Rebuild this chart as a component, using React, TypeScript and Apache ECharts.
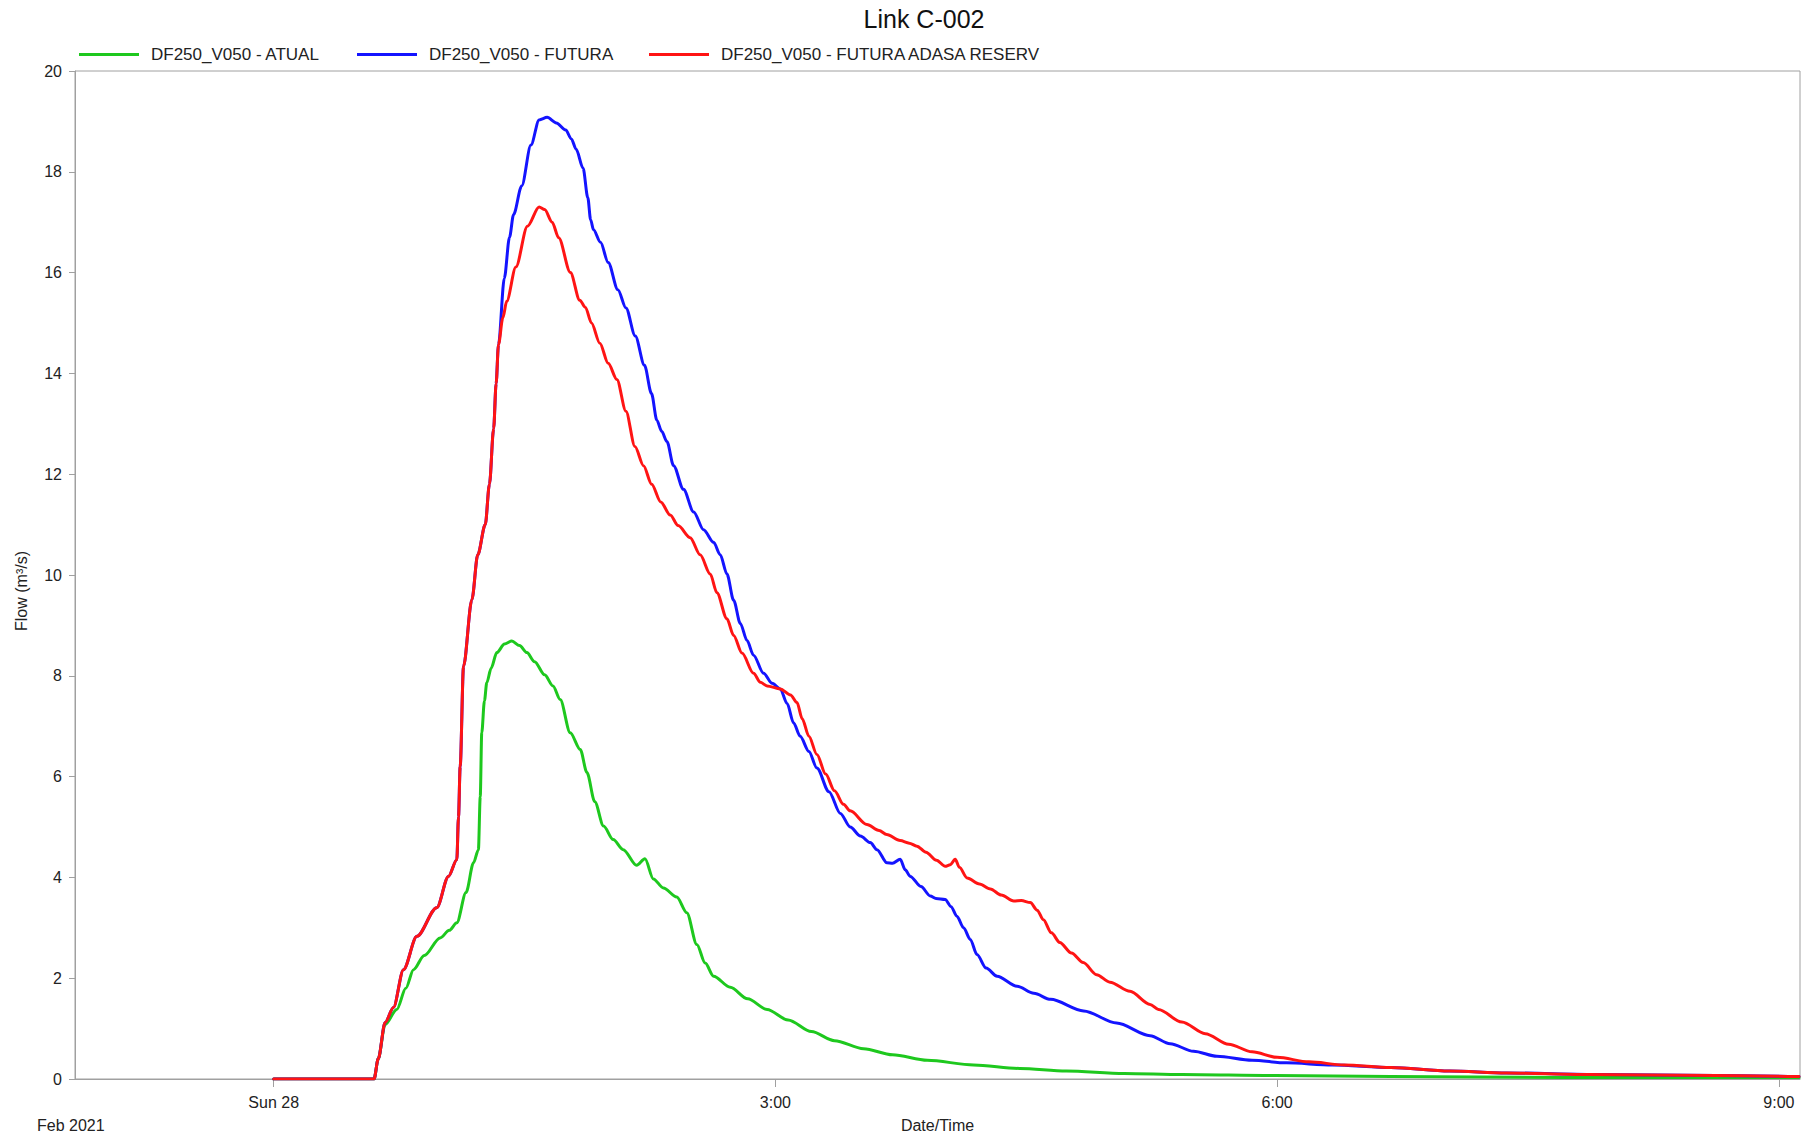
import React, { useEffect, useRef } from "react";
import * as echarts from "echarts";

// Hours after Sun 28 Feb 2021 00:00
const seriesNames = [
  "DF250_V050 - ATUAL",
  "DF250_V050 - FUTURA",
  "DF250_V050 - FUTURA ADASA RESERV",
];
const seriesColors = ["#1ec81e", "#1414ff", "#ff1414"];

const xTickHours = [0, 3, 6, 9];
const xTickLabels = ["Sun 28", "3:00", "6:00", "9:00"];
const yTicks = [0, 2, 4, 6, 8, 10, 12, 14, 16, 18, 20];

const atualHours = [
  0, 0.6, 0.625, 0.666, 0.736, 0.79, 0.836, 0.9, 0.995, 1.05, 1.095, 1.15, 1.195, 1.224,
  1.235, 1.244, 1.26, 1.274, 1.3, 1.334, 1.38, 1.424, 1.47, 1.514, 1.56, 1.62, 1.67, 1.713,
  1.773, 1.833, 1.873, 1.92, 1.972, 2.03, 2.09, 2.17, 2.22, 2.27, 2.33, 2.41, 2.47, 2.53,
  2.58, 2.63, 2.73, 2.834, 2.95, 3.076, 3.215, 3.353, 3.527, 3.7, 3.908, 4.185, 4.462,
  4.739, 5.085, 5.432, 5.986, 6.68, 7.72, 9.12,
];
const atualFlow = [
  0, 0, 0.4, 1.08, 1.38, 1.8, 2.17, 2.45, 2.8, 2.95, 3.1, 3.7, 4.29, 4.55,
  5.6, 6.87, 7.5, 7.86, 8.15, 8.46, 8.63, 8.69, 8.6, 8.46, 8.28, 8.02, 7.8, 7.53,
  6.87, 6.54, 6.08, 5.5, 5.02, 4.75, 4.55, 4.24, 4.37, 3.97, 3.79, 3.61, 3.3, 2.67,
  2.3, 2.04, 1.82, 1.59, 1.38, 1.17, 0.94, 0.76, 0.6, 0.48, 0.37, 0.28, 0.21,
  0.16, 0.11, 0.09, 0.07, 0.05, 0.03, 0.03,
];

const futuraHours = [
  0, 0.6, 0.625, 0.666, 0.716, 0.776, 0.856, 0.975, 1.045, 1.095, 1.105, 1.115, 1.135,
  1.185, 1.22, 1.265, 1.29, 1.315, 1.33, 1.344, 1.379, 1.41, 1.434, 1.483, 1.538, 1.587,
  1.635, 1.69, 1.746, 1.78, 1.808, 1.85, 1.878, 1.895, 1.912, 1.954, 2.0, 2.058, 2.106,
  2.162, 2.217, 2.259, 2.291, 2.32, 2.351, 2.391, 2.45, 2.511, 2.57, 2.63, 2.67, 2.71,
  2.75, 2.79, 2.83, 2.869, 2.929, 2.98, 3.029, 3.07, 3.108, 3.148, 3.2, 3.248, 3.32,
  3.388, 3.447, 3.508, 3.567, 3.607, 3.667, 3.7, 3.746, 3.776, 3.806, 3.87, 3.926, 3.96,
  4.015, 4.05, 4.085, 4.125, 4.165, 4.205, 4.26, 4.325, 4.445, 4.545, 4.645, 4.843,
  5.04, 5.24, 5.36, 5.5, 5.64, 5.85, 6.055, 6.33, 6.68, 7.03, 7.37, 7.93, 8.62, 9.12,
];
const futuraFlow = [
  0, 0, 0.4, 1.12, 1.42, 2.17, 2.83, 3.4, 4.02, 4.35, 5.2, 6.2, 8.19,
  9.51, 10.4, 11.0, 11.8, 12.9, 13.8, 14.57, 15.89, 16.7, 17.15, 17.72, 18.53, 19.03,
  19.08, 18.97, 18.83, 18.65, 18.45, 18.07, 17.49, 17.05, 16.85, 16.6, 16.2, 15.66, 15.3,
  14.74, 14.16, 13.6, 13.07, 12.85, 12.65, 12.17, 11.7, 11.25, 10.9, 10.65, 10.4, 10.02,
  9.5, 9.04, 8.7, 8.41, 8.05, 7.85, 7.74, 7.45, 7.07, 6.8, 6.5, 6.17, 5.7,
  5.27, 5.0, 4.82, 4.69, 4.55, 4.29, 4.28, 4.36, 4.15, 4.02, 3.82, 3.63, 3.58,
  3.56, 3.42, 3.23, 3.0, 2.77, 2.47, 2.2, 2.04, 1.84, 1.7, 1.58, 1.35,
  1.11, 0.86, 0.7, 0.55, 0.45, 0.37, 0.32, 0.28, 0.23, 0.16, 0.12, 0.09, 0.07, 0.05,
];

const reservHours = [
  0, 0.6, 0.625, 0.666, 0.716, 0.776, 0.856, 0.975, 1.045, 1.095, 1.105, 1.115, 1.135,
  1.185, 1.22, 1.265, 1.29, 1.315, 1.33, 1.344, 1.37, 1.393, 1.448, 1.517, 1.587, 1.62,
  1.665, 1.704, 1.774, 1.83, 1.864, 1.9, 1.95, 2.0, 2.052, 2.106, 2.16, 2.211, 2.26,
  2.314, 2.371, 2.418, 2.49, 2.55, 2.61, 2.65, 2.71, 2.75, 2.8, 2.869, 2.91, 2.95,
  3.029, 3.09, 3.129, 3.16, 3.2, 3.248, 3.3, 3.353, 3.407, 3.447, 3.547, 3.62, 3.665,
  3.746, 3.8, 3.846, 3.9, 3.963, 4.015, 4.045, 4.075, 4.1, 4.146, 4.22, 4.285, 4.35,
  4.425, 4.47, 4.524, 4.565, 4.602, 4.65, 4.7, 4.77, 4.84, 4.92, 5.0, 5.12, 5.24,
  5.29, 5.43, 5.57, 5.71, 5.85, 6.0, 6.19, 6.4, 6.68, 7.03, 7.37, 7.86, 8.62, 9.12,
];
const reservFlow = [
  0, 0, 0.4, 1.12, 1.42, 2.17, 2.83, 3.4, 4.02, 4.35, 5.2, 6.2, 8.19,
  9.51, 10.4, 11.0, 11.8, 12.9, 13.8, 14.57, 15.1, 15.43, 16.11, 16.92, 17.3, 17.25,
  17.0, 16.69, 16.0, 15.45, 15.31, 15.0, 14.6, 14.2, 13.88, 13.25, 12.55, 12.17, 11.8,
  11.45, 11.19, 10.98, 10.74, 10.4, 10.02, 9.65, 9.13, 8.8, 8.45, 8.05, 7.87, 7.8,
  7.74, 7.62, 7.47, 7.15, 6.8, 6.44, 6.05, 5.72, 5.45, 5.32, 5.05, 4.93, 4.85,
  4.73, 4.68, 4.62, 4.5, 4.34, 4.22, 4.25, 4.36, 4.2, 3.99, 3.87, 3.77, 3.65,
  3.53, 3.54, 3.5, 3.35, 3.16, 2.9, 2.71, 2.5, 2.31, 2.07, 1.92, 1.74, 1.48,
  1.38, 1.13, 0.9, 0.69, 0.54, 0.43, 0.34, 0.28, 0.23, 0.16, 0.12, 0.09, 0.07, 0.05,
];

const FONT = 'Arial, "Liberation Sans", sans-serif';

function pairs(xs: number[], ys: number[]) {
  return xs.map((x, i) => [x, ys[i]]);
}

export default function App() {
  const ref = useRef<HTMLDivElement>(null);

  useEffect(() => {
    document.body.style.margin = "0";
    document.body.style.overflow = "hidden";
    if (!ref.current) return;
    const chart = echarts.init(ref.current, undefined, { renderer: "svg" });

    const seriesData = [
      pairs(atualHours, atualFlow),
      pairs(futuraHours, futuraFlow),
      pairs(reservHours, reservFlow),
    ];
    const legendLefts = [74, 352, 644];

    chart.setOption({
      animation: false,
      backgroundColor: "#ffffff",
      textStyle: { fontFamily: FONT },
      grid: {
        left: 75,
        top: 71,
        right: 18,
        bottom: 60,
        show: true,
        borderColor: "#a0a0a0",
        borderWidth: 1,
        backgroundColor: "transparent",
      },
      legend: seriesNames.map((name, i) => ({
        data: [name],
        left: legendLefts[i],
        top: 41,
        icon: "rect",
        itemWidth: 60,
        itemHeight: 3,
        selectedMode: false,
        textStyle: {
          fontFamily: FONT,
          fontSize: 17,
          color: "#222",
          padding: [0, 0, 0, 7],
        },
      })),
      xAxis: {
        type: "value",
        min: -1.188,
        max: 9.126,
        name: "Date/Time",
        nameLocation: "middle",
        nameGap: 38,
        nameTextStyle: { fontFamily: FONT, fontSize: 16, color: "#222" },
        axisLine: { show: true, onZero: false, lineStyle: { color: "#a0a0a0", width: 1 } },
        axisTick: {
          show: true,
          length: 8,
          customValues: xTickHours,
          lineStyle: { color: "#a0a0a0" },
        },
        axisLabel: {
          customValues: xTickHours,
          margin: 15,
          fontFamily: FONT,
          fontSize: 16,
          color: "#222",
          formatter: (v: number) => {
            const idx = xTickHours.indexOf(v);
            return idx >= 0 ? xTickLabels[idx] : "";
          },
        },
        splitLine: { show: false },
      },
      yAxis: {
        type: "value",
        min: 0,
        max: 20,
        interval: 2,
        axisLine: { show: true, onZero: false, lineStyle: { color: "#a0a0a0", width: 1 } },
        axisTick: { show: true, length: 6, lineStyle: { color: "#a0a0a0" } },
        axisLabel: {
          margin: 13,
          fontFamily: FONT,
          fontSize: 16,
          color: "#222",
          formatter: (v: number) => (yTicks.includes(v) ? String(v) : ""),
        },
        splitLine: { show: false },
      },
      graphic: [
        {
          type: "text",
          x: 924,
          y: 19,
          style: {
            text: "Link C-002",
            fontFamily: FONT,
            fontSize: 25,
            fill: "#111",
            align: "center",
            verticalAlign: "middle",
          },
        },
        {
          type: "text",
          x: 37,
          y: 1125,
          style: {
            text: "Feb 2021",
            fontFamily: FONT,
            fontSize: 16,
            fill: "#222",
            align: "left",
            verticalAlign: "middle",
          },
        },
        {
          type: "text",
          x: 21,
          y: 591,
          rotation: Math.PI / 2,
          style: {
            text: "Flow (m³/s)",
            fontFamily: FONT,
            fontSize: 16,
            fill: "#222",
            align: "center",
            verticalAlign: "middle",
          },
        },
      ],
      series: seriesNames.map((name, i) => ({
        name,
        type: "line",
        data: seriesData[i],
        showSymbol: false,
        symbol: "none",
        smooth: 0.3,
        smoothMonotone: "x",
        color: seriesColors[i],
        lineStyle: { color: seriesColors[i], width: 3, join: "round", cap: "round" },
        z: 2 + i,
      })),
    });

    return () => {
      chart.dispose();
    };
  }, []);

  return (
    <div
      ref={ref}
      style={{ position: "absolute", left: 0, top: 0, width: 1818, height: 1139 }}
    />
  );
}
